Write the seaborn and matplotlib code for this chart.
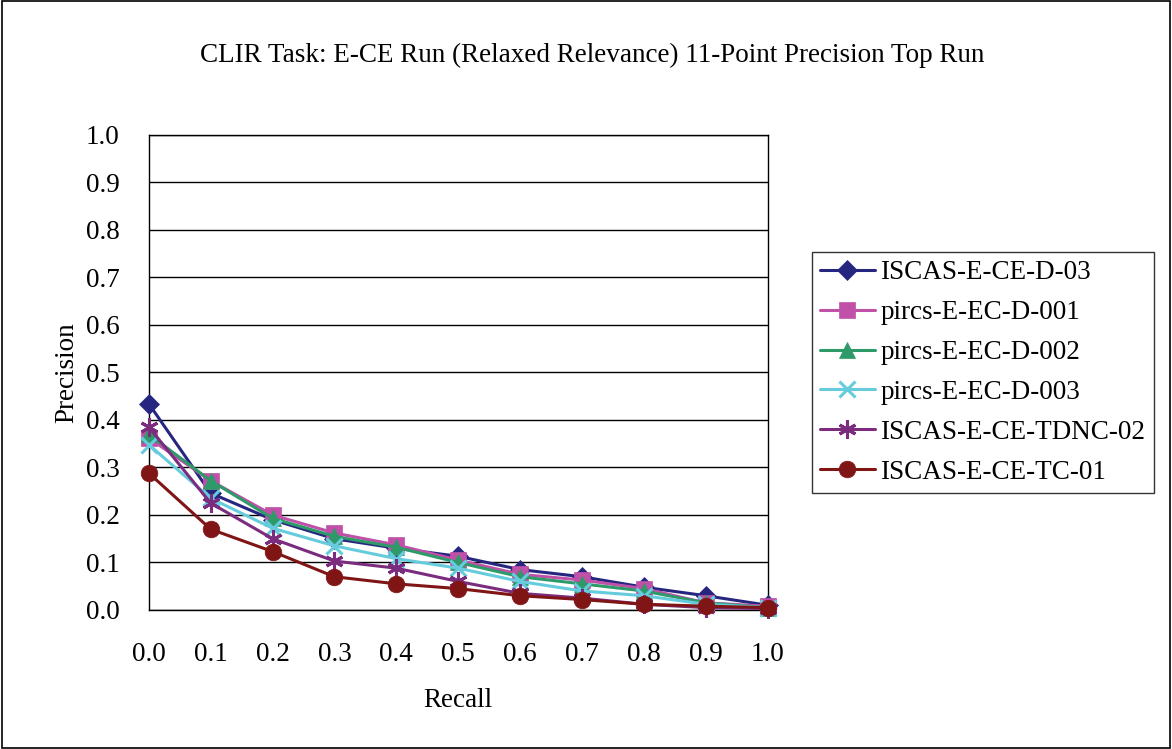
import numpy as np
import pandas as pd
import matplotlib
matplotlib.use("Agg")
import matplotlib.pyplot as plt
import seaborn as sns

recall = [0.0, 0.1, 0.2, 0.3, 0.4, 0.5, 0.6, 0.7, 0.8, 0.9, 1.0]

runs = ["ISCAS-E-CE-D-03", "pircs-E-EC-D-001", "pircs-E-EC-D-002",
        "pircs-E-EC-D-003", "ISCAS-E-CE-TDNC-02", "ISCAS-E-CE-TC-01"]

iscas_d03 = [0.434, 0.246, 0.190, 0.150, 0.130, 0.113, 0.085, 0.070, 0.048, 0.030, 0.010]
pircs_001 = [0.362, 0.272, 0.200, 0.162, 0.137, 0.105, 0.075, 0.063, 0.045, 0.015, 0.008]
pircs_002 = [0.370, 0.272, 0.193, 0.155, 0.132, 0.100, 0.070, 0.055, 0.040, 0.015, 0.005]
pircs_003 = [0.348, 0.235, 0.172, 0.135, 0.108, 0.088, 0.060, 0.040, 0.030, 0.012, 0.005]
iscas_tdnc02 = [0.385, 0.225, 0.150, 0.103, 0.088, 0.060, 0.035, 0.025, 0.012, 0.005, 0.003]
iscas_tc01 = [0.288, 0.170, 0.123, 0.070, 0.055, 0.045, 0.030, 0.022, 0.012, 0.008, 0.005]

colors = ["#262680", "#C050A8", "#2E9A6A", "#66CCDD", "#7B2C7E", "#801515"]
markers = ["D", "s", "^", "x", (6, 2, 0), "o"]
msizes = [10, 12, 12, 12, 13, 12]

all_vals = [iscas_d03, pircs_001, pircs_002, pircs_003, iscas_tdnc02, iscas_tc01]
rows = []
for run, vals in zip(runs, all_vals):
    for r, p in zip(recall, vals):
        rows.append({"Recall": r, "Precision": p, "Run": run})
df = pd.DataFrame(rows)

sns.set_style("white")
plt.rcParams['font.family'] = ['Liberation Serif', 'DejaVu Serif']
plt.rcParams['text.color'] = 'black'
plt.rcParams['axes.labelcolor'] = 'black'
plt.rcParams['xtick.color'] = 'black'
plt.rcParams['ytick.color'] = 'black'
FS = 19.5

fig = plt.figure(figsize=(11.72, 7.49), dpi=100)
ax = fig.add_axes([0.127, 0.1856, 0.528, 0.6342])

for i, run in enumerate(runs):
    sub = df[df["Run"] == run]
    sns.lineplot(data=sub, x="Recall", y="Precision", ax=ax, color=colors[i],
                 marker=markers[i], markersize=msizes[i], linewidth=2.2,
                 markeredgewidth=2.2 if markers[i] in ("x", (6, 2, 0)) else 0.5,
                 markeredgecolor=colors[i], label=run, clip_on=False, zorder=3 + i)

ax.set_xlim(0, 1.0)
ax.set_ylim(0, 1.0)
ax.set_xticks(recall)
ax.set_xticklabels([f"{v:.1f}" for v in recall])
ax.set_yticks(np.arange(0, 1.01, 0.1))
ax.set_yticklabels([f"{v:.1f}" for v in np.arange(0, 1.01, 0.1)])
ax.yaxis.grid(True, color="black", linewidth=1)
ax.set_axisbelow(True)
for s in ax.spines.values():
    s.set_color("black")
    s.set_linewidth(1)
ax.tick_params(axis="both", labelsize=FS, direction="out", color="black", labelcolor="black")
ax.tick_params(axis="x", length=5, pad=18)
ax.tick_params(axis="y", length=3, pad=18)
ax.set_xlabel("Recall", fontsize=FS, labelpad=15, color="black")
ax.set_ylabel("Precision", fontsize=FS, labelpad=5, color="black")

fig.text(0.505, 0.926, "CLIR Task: E-CE Run (Relaxed Relevance) 11-Point Precision Top Run",
         ha="center", va="center", fontsize=FS, color="black")

leg = ax.legend(loc="center left", bbox_to_anchor=(1.072, 0.5), fontsize=FS,
                frameon=True, fancybox=False, edgecolor="black", borderpad=0.3,
                handlelength=2.0, labelspacing=0.55, handletextpad=0.22,
                borderaxespad=0)
leg.get_frame().set_linewidth(1)
for t in leg.get_texts():
    t.set_color("black")

border = plt.Rectangle((0.002, 0.002), 0.996, 0.996, transform=fig.transFigure,
                       fill=False, edgecolor="black", linewidth=1.2)
fig.patches.append(border)

fig.savefig("out.png", dpi=100)
